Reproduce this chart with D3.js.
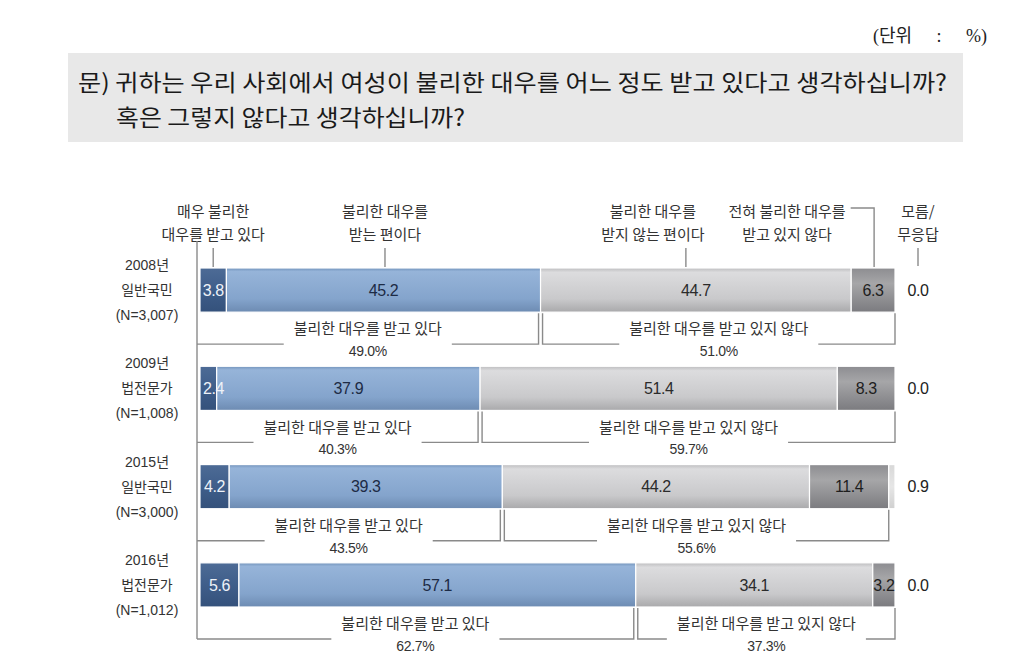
<!DOCTYPE html>
<html><head><meta charset="utf-8">
<script src="https://cdn.jsdelivr.net/npm/d3@7"></script>
<style>
html,body{margin:0;padding:0;background:#fff;}
svg{display:block;}
</style></head>
<body>
<svg id="chart" width="1012" height="663"></svg>
<script>
// ---------- data ----------
const years = ["2008년", "2009년", "2015년", "2016년"];
const groups = ["일반국민", "법전문가", "일반국민", "법전문가"];
const sampleN = ["(N=3,007)", "(N=1,008)", "(N=3,000)", "(N=1,012)"];
const veryUnfair = [3.8, 2.4, 4.2, 5.6];
const unfair = [45.2, 37.9, 39.3, 57.1];
const notUnfair = [44.7, 51.4, 44.2, 34.1];
const notAtAll = [6.3, 8.3, 11.4, 3.2];
const dontKnow = [0.0, 0.0, 0.9, 0.0];
const unfairTotal = ["49.0%", "40.3%", "43.5%", "62.7%"];
const notUnfairTotal = ["51.0%", "59.7%", "55.6%", "37.3%"];
const seriesNames = [["매우 불리한", "대우를 받고 있다"], ["불리한 대우를", "받는 편이다"],
  ["불리한 대우를", "받지 않는 편이다"], ["전혀 불리한 대우를", "받고 있지 않다"], ["모름/", "무응답"]];
const bracketLabels = ["불리한 대우를 받고 있다", "불리한 대우를 받고 있지 않다"];
const titleLines = ["문) 귀하는 우리 사회에서 여성이 불리한 대우를 어느 정도 받고 있다고 생각하십니까?",
  "혹은 그렇지 않다고 생각하십니까?"];
const unitLabel = "(단위 : %)";

// ---------- layout ----------
const KR = "'Noto Sans CJK KR', sans-serif";
const NUM = "'Liberation Sans', 'Noto Sans CJK KR', sans-serif";
const SERIF = "'Liberation Serif', 'Noto Sans CJK KR', serif";
const svg = d3.select("#chart");

const keys = ["veryUnfair", "unfair", "notUnfair", "notAtAll", "dontKnow"];
const table = years.map((y, i) => ({
  id: i, veryUnfair: veryUnfair[i], unfair: unfair[i], notUnfair: notUnfair[i],
  notAtAll: notAtAll[i], dontKnow: dontKnow[i]
}));
const stacked = d3.stack().keys(keys)(table);

const x = d3.scaleLinear().domain([0, 100]).range([200, 895]);
const y = d3.scaleBand().domain(d3.range(years.length)).range([268, 607]).paddingInner(0.551).paddingOuter(0);

// gradients
const defs = svg.append("defs");
const grads = {
  veryUnfair: [["0", "#4d6b96"], ["0.5", "#3f5e8a"], ["1", "#34517b"]],
  unfair: [["0", "#7293bb"], ["0.08", "#96b4d9"], ["0.7", "#84a4cc"], ["1", "#6d8bb2"]],
  notUnfair: [["0", "#bdbdbf"], ["0.1", "#dcdcde"], ["0.7", "#c9c9cb"], ["1", "#a9a9ab"]],
  notAtAll: [["0", "#8d8d91"], ["0.35", "#a6a6a8"], ["1", "#7b7b7f"]],
  dontKnow: [["0", "#d8d8d8"], ["0.5", "#e6e6e6"], ["1", "#d0d0d0"]]
};
Object.entries(grads).forEach(([k, stops]) => {
  const g = defs.append("linearGradient").attr("id", "g_" + k).attr("x1", 0).attr("x2", 0).attr("y1", 0).attr("y2", 1);
  stops.forEach(([o, c]) => g.append("stop").attr("offset", o).attr("stop-color", c));
});
const labelColor = { veryUnfair: "#eef2f8", unfair: "#1d2b45", notUnfair: "#2b2b2b", notAtAll: "#1e1e1e", dontKnow: "#222" };

// fit a text line to a width by widening the gaps between words
function fitWords(sel, target) {
  const n = (sel.text().match(/ /g) || []).length;
  const w = sel.node().getComputedTextLength();
  if (n > 0) sel.attr("word-spacing", (target - w) / n);
}

// title box
const unit = svg.append("text").attr("x", 987).attr("y", 42).attr("text-anchor", "end")
  .attr("font-family", SERIF).attr("font-size", 18).attr("fill", "#222").text(unitLabel);
fitWords(unit, 114);
svg.append("rect").attr("x", 68).attr("y", 53).attr("width", 895).attr("height", 89).attr("fill", "#e8e8e8");
svg.append("text").attr("x", 78).attr("y", 91).attr("font-family", KR).attr("font-size", 23).attr("fill", "#1a1a1a")
  .attr("textLength", 869).attr("lengthAdjust", "spacingAndGlyphs").text(titleLines[0]);
svg.append("text").attr("x", 116).attr("y", 126).attr("font-family", KR).attr("font-size", 23).attr("fill", "#1a1a1a")
  .attr("textLength", 349).attr("lengthAdjust", "spacingAndGlyphs").text(titleLines[1]);

const lineColor = "#8a8a8a";

// header labels
const row0 = stacked.map(s => s[0]);
const segMid = row0.slice(0, 4).map(d => (x(d[0]) + x(d[1])) / 2);
const headerDx = [0, 1.5, -43, -86];
const tickDx = [0, 1.5, -10, 1];
const headerPos = segMid.map((m, i) => m + headerDx[i]).concat([x(100) + 23]);
const tickPos = segMid.map((m, i) => m + tickDx[i]).concat([x(100) + 23]);
seriesNames.forEach((lines, i) => {
  let w0 = 0;
  lines.forEach((t, j) => {
    const tt = svg.append("text").attr("x", headerPos[i]).attr("y", 212 + j * 23).attr("dy", "0.35em")
      .attr("text-anchor", "middle").attr("font-family", KR).attr("font-size", 15).attr("fill", "#333").text(t);
    if (j === 0) w0 = tt.node().getComputedTextLength();
  });
  if (i === 3) {
    svg.append("path")
      .attr("d", `M${headerPos[i] + w0 / 2 + 5},208 H${tickPos[i]} V${y(0) - 1}`)
      .attr("fill", "none").attr("stroke", lineColor).attr("stroke-width", 1.4);
  } else {
    svg.append("line").attr("x1", tickPos[i]).attr("x2", tickPos[i]).attr("y1", 248).attr("y2", i === 4 ? 266 : y(0) - 1)
      .attr("stroke", lineColor).attr("stroke-width", 1.4);
  }
});

// row labels
years.forEach((yr, i) => {
  const cy = y(i) + y.bandwidth() / 2;
  [yr, groups[i], sampleN[i]].forEach((t, j) => {
    svg.append("text").attr("x", 147).attr("y", cy + (j - 1) * 25).attr("dy", "0.35em")
      .attr("text-anchor", "middle").attr("font-family", NUM).attr("font-size", 14).attr("fill", "#333").text(t);
  });
});

// bars
stacked.forEach(s => {
  const k = s.key;
  svg.append("g").selectAll("rect").data(s).join("rect")
    .attr("x", d => x(d[0])).attr("y", (d, i) => y(i))
    .attr("width", d => Math.max(0, x(d[1]) - x(d[0])))
    .attr("height", y.bandwidth())
    .attr("fill", `url(#g_${k})`)
    .attr("stroke", "#fff").attr("stroke-width", d => (d[1] - d[0]) > 0 ? 1.2 : 0);
});
// segment value labels
stacked.forEach(s => {
  const k = s.key;
  s.forEach((d, i) => {
    const v = d[1] - d[0];
    const cy = y(i) + y.bandwidth() / 2;
    let tx, anchor = "middle";
    if (k === "dontKnow") { tx = x(100) + 23; }
    else if (v < 3 && k === "veryUnfair") { tx = x(d[0]) + 3; anchor = "start"; }
    else tx = (x(d[0]) + x(d[1])) / 2;
    const val = k === "veryUnfair" ? veryUnfair[i] : k === "unfair" ? unfair[i] : k === "notUnfair" ? notUnfair[i] : k === "notAtAll" ? notAtAll[i] : dontKnow[i];
    svg.append("text").attr("x", tx).attr("y", cy).attr("dy", "0.36em").attr("text-anchor", anchor)
      .attr("font-family", NUM).attr("font-size", 16).attr("letter-spacing", -0.4)
      .attr("fill", k === "dontKnow" ? "#222" : labelColor[k]).text(val.toFixed(1));
  });
});

// brackets
let lastLineY = 0;
years.forEach((yr, i) => {
  const bottom = y(i) + y.bandwidth();
  const lineY = bottom + 32;
  lastLineY = lineY;
  const split = x(veryUnfair[i] + unfair[i]);
  const endR = x(veryUnfair[i] + unfair[i] + notUnfair[i] + notAtAll[i]);
  const specs = [
    { l: 197, r: split - 2, label: bracketLabels[0], total: unfairTotal[i], leftSide: false },
    { l: split + 2, r: endR, label: bracketLabels[1], total: notUnfairTotal[i], leftSide: true }
  ];
  specs.forEach(sp => {
    const cx = (sp.l + sp.r) / 2;
    const tl = svg.append("text").attr("x", cx).attr("y", bottom + 17).attr("dy", "0.35em")
      .attr("text-anchor", "middle").attr("font-family", KR).attr("font-size", 15).attr("fill", "#333").text(sp.label);
    const w = tl.node().getComputedTextLength();
    svg.append("text").attr("x", cx).attr("y", bottom + 39).attr("dy", "0.35em")
      .attr("text-anchor", "middle").attr("font-family", NUM).attr("font-size", 14).attr("letter-spacing", -0.3)
      .attr("fill", "#333").text(sp.total);
    const gapL = cx - w / 2 - 10, gapR = cx + w / 2 + 10;
    const p = d3.path();
    if (sp.leftSide) { p.moveTo(sp.l, bottom + 1); p.lineTo(sp.l, lineY); } else { p.moveTo(sp.l, lineY); }
    p.lineTo(gapL, lineY);
    p.moveTo(gapR, lineY); p.lineTo(sp.r, lineY); p.lineTo(sp.r, bottom + 1);
    svg.append("path").attr("d", p.toString()).attr("fill", "none").attr("stroke", lineColor).attr("stroke-width", 1.4);
  });
});

// left axis line
svg.append("line").attr("x1", 197).attr("x2", 197).attr("y1", 241).attr("y2", lastLineY)
  .attr("stroke", lineColor).attr("stroke-width", 1.4);
</script>
</body></html>
